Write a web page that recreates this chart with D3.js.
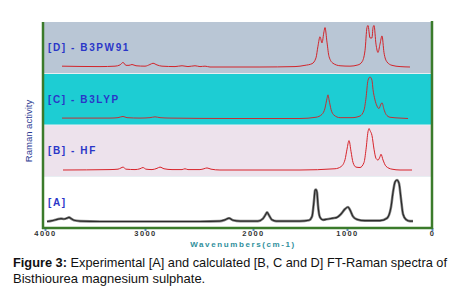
<!DOCTYPE html>
<html>
<head>
<meta charset="utf-8">
<script src="https://cdn.jsdelivr.net/npm/d3@7"></script>
<style>
  body { margin: 0; background: #fff; }
  svg { display: block; font-family: "Liberation Sans", Arial, sans-serif; }
</style>
</head>
<body>
<div id="chart"></div>
<script>
// FT-Raman spectra of bisthiourea magnesium sulphate, experimental [A] + calculated [B-D]
// Each spectrum: [wavenumber (cm-1), relative intensity 0-100].
const BANDS = ["D", "C", "B", "A"];
const BAND_LABELS = { D: "[D] - B3PW91", C: "[C] - B3LYP", B: "[B] - HF", A: "[A]" };
const X_TICKS = [4000, 3000, 2000, 1000, 0];

const specD = [[3830,2],[3450,1],[3300,2],[3250,5],[3220,11],[3190,4],[3160,4],[3130,6],[3090,3],[3000,2],
  [2954,6],[2926,9],[2889,5],[2843,2],[2722,1],[2657,3],[2602,1],[2537,3],[2491,1],[2444,2],[2398,0],
  [1926,0],[1553,1],[1447,4],[1372,8],[1330,22],[1309,50],[1287,73],[1266,58],[1245,85],[1234,95],
  [1213,60],[1191,25],[1149,9],[1074,3],[965,2],[871,5],[824,12],[788,40],[765,95],[753,100],[729,70],
  [706,70],[694,95],[682,100],[659,55],[635,35],[612,55],[588,75],[565,35],[529,12],[471,4],[376,1],[259,0]];

const specC = [[3830,1],[3350,1],[3270,2],[3220,5],[3180,2],[3050,1],[2954,2],[2907,4],[2861,2],[2769,1],
  [2213,0],[1500,0],[1330,3],[1266,10],[1234,25],[1213,48],[1202,57],[1191,45],[1170,22],[1138,8],
  [1074,2],[941,2],[847,6],[800,20],[776,50],[753,92],[729,100],[706,92],[694,70],[671,45],[647,30],
  [624,24],[600,35],[588,38],[565,22],[541,10],[494,3],[376,1],[282,0]];

const specB = [[3820,0],[3350,1],[3270,2],[3240,5],[3220,7],[3190,2],[3100,1],[3050,3],[3020,6],[2991,2],
  [2935,1],[2889,4],[2861,7],[2824,3],[2750,1],[2657,1],[2630,3],[2602,1],[2491,1],[2454,3],[2426,5],
  [2389,2],[2306,0],[1500,0],[1128,3],[1064,8],[1021,25],[1000,50],[976,71],[953,45],[929,18],[894,7],
  [847,6],[800,18],[776,50],[753,92],[741,100],[729,95],[706,83],[682,50],[659,28],[635,24],[612,32],
  [600,38],[576,24],[541,9],[471,2],[376,0],[235,0]];

const specA = [[3980,0],[3930,2],[3880,5],[3840,7],[3810,6],[3780,8],[3760,10],[3740,7],[3710,3],[3650,1],
  [3450,0],[2954,0],[2491,0],[2306,1],[2259,4],[2222,8],[2185,3],[2120,1],[1947,1],[1894,7],[1862,18],
  [1851,22],[1830,15],[1798,4],[1755,1],[1500,1],[1404,3],[1372,12],[1351,50],[1340,75],[1330,77],
  [1319,70],[1309,40],[1287,10],[1255,4],[1202,6],[1149,8],[1106,10],[1064,18],[1021,30],[988,35],
  [965,28],[929,12],[882,5],[788,2],[612,2],[529,8],[482,35],[459,70],[435,95],[412,100],[388,92],
  [365,55],[341,18],[306,5],[259,1],[224,1]];

const SPECTRA = { D: specD, C: specC, B: specB, A: specA };

const W = 451, H = 299;
const plot = { left: 44, right: 432, top: 22, bottom: 228 };

const svg = d3.select("#chart").append("svg").attr("width", W).attr("height", H);

// the scanned axis is not evenly spaced, so use a piecewise scale through the ticks
const x = d3.scaleLinear().domain(X_TICKS).range([45, 145, 253, 347, 432]);
const band = d3.scaleBand().domain(BANDS).range([plot.top, plot.bottom]);

const bandFill = { D: "#b9c6d5", C: "#1dcdd3", B: "#ede2ec", A: "#ffffff" };
const lineColor = { D: "#d2242a", C: "#c43035", B: "#d8232a", A: "#2a2a2a" };

svg.append("g").selectAll("rect")
  .data(BANDS)
  .join("rect")
  .attr("x", plot.left)
  .attr("width", plot.right - plot.left)
  .attr("y", (d) => band(d))
  .attr("height", band.bandwidth())
  .attr("fill", (d) => bandFill[d]);

// thin light separator lines between bands
svg.append("g").selectAll("line")
  .data(BANDS.slice(1))
  .join("line")
  .attr("x1", plot.left).attr("x2", plot.right)
  .attr("y1", (d) => band(d)).attr("y2", (d) => band(d))
  .attr("stroke", "#e8eef2").attr("stroke-width", 1);

const spec = svg.append("g");
BANDS.forEach((k) => {
  const y0 = band(k);
  const y = d3.scaleLinear().domain([0, 100]).range([y0 + band.bandwidth() - 6.5, y0 + 3.5]);
  const line = d3.line().x((d) => x(d[0])).y((d) => y(d[1])).curve(d3.curveMonotoneX);
  if (k === "A") {
    spec.append("path").attr("d", line(SPECTRA[k]))
      .attr("fill", "none").attr("stroke", "#8a8a8a").attr("stroke-width", 2.6);
  }
  spec.append("path").attr("d", line(SPECTRA[k]))
    .attr("fill", "none")
    .attr("stroke", lineColor[k])
    .attr("stroke-width", k === "A" ? 1.2 : 1)
    .attr("stroke-linejoin", "round");

  svg.append("text")
    .attr("x", 48)
    .attr("y", y0 + 29)
    .attr("fill", "#2a36c8")
    .attr("font-size", 10)
    .attr("font-weight", "bold")
    .attr("letter-spacing", 1.6)
    .text(BAND_LABELS[k]);
});

// x axis
const axis = svg.append("g")
  .attr("transform", `translate(0,${plot.bottom})`)
  .call(d3.axisBottom(x).tickValues(X_TICKS).tickSize(3).tickPadding(0).tickFormat(d3.format("d")));
axis.select(".domain").remove();
axis.selectAll(".tick line").attr("stroke", "#5b8fd2").attr("stroke-width", 2);
axis.selectAll(".tick text")
  .attr("fill", "#333").attr("font-size", 7.5).attr("font-weight", "bold")
  .attr("letter-spacing", 1.4)
  .attr("font-family", "'Liberation Sans', Arial, sans-serif");

// green frame: left, bottom, right
const frame = svg.append("g").attr("stroke", "#3b7b2b").attr("stroke-width", 2.5);
frame.append("line").attr("x1", 43).attr("x2", 43).attr("y1", plot.top).attr("y2", plot.bottom + 1);
frame.append("line").attr("x1", 42).attr("x2", plot.right + 1).attr("y1", plot.bottom).attr("y2", plot.bottom);
frame.append("line").attr("x1", plot.right).attr("x2", plot.right).attr("y1", plot.top - 1).attr("y2", plot.bottom + 1);

svg.append("text")
  .attr("x", 243).attr("y", 247)
  .attr("text-anchor", "middle")
  .attr("fill", "#2f8f9c")
  .attr("font-size", 8).attr("font-weight", "bold")
  .attr("letter-spacing", 1.6)
  .text("Wavenumbers(cm-1)");

svg.append("text")
  .attr("transform", "translate(32,131) rotate(-90)")
  .attr("text-anchor", "middle")
  .attr("fill", "#2b3a92")
  .attr("font-size", 9.5)
  .text("Raman activity");

// caption
const cap = svg.append("text")
  .attr("x", 13).attr("y", 267)
  .attr("font-size", 12.6).attr("fill", "#111")
  .attr("textLength", 434).attr("lengthAdjust", "spacingAndGlyphs");
cap.append("tspan").attr("font-weight", "bold").text("Figure 3:");
cap.append("tspan").text(" Experimental [A] and calculated [B, C and D] FT-Raman spectra of");
svg.append("text")
  .attr("x", 13).attr("y", 283)
  .attr("font-size", 13).attr("fill", "#111")
  .text("Bisthiourea magnesium sulphate.");
</script>
</body>
</html>
